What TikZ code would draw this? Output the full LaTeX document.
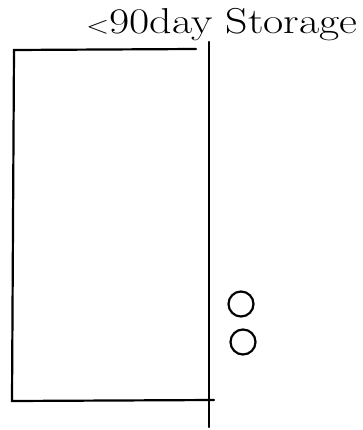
\documentclass[tikz,border=0pt]{standalone}
\begin{document}
\begin{tikzpicture}[x=1pt,y=-1pt,
  wall/.style={line width=2.2pt,line cap=round},
  valve/.style={circle,draw,line width=2.2pt,minimum size=25pt,inner sep=0pt},
  label/.style={font=\fontsize{36}{36}\selectfont,anchor=base west,inner sep=0pt,xscale=1.22}]
\useasboundingbox (0,0) rectangle (363,430);
\coordinate (tl) at (14,50);
\coordinate (tr) at (196,49);
\coordinate (bl) at (12,401);
\coordinate (br) at (214,400);
\coordinate (rt) at (209,42);
\coordinate (rb) at (209,427);
\draw[wall] (tr) -- (tl) -- (bl) -- (br);
\draw[wall] (rt) -- (rb);
\node[valve] (v1) at (241,304) {};
\node[valve] (v2) at (243,342) {};
\node[label] (t) at (86,34) {$<$90day Storage};
\end{tikzpicture}
\end{document}
